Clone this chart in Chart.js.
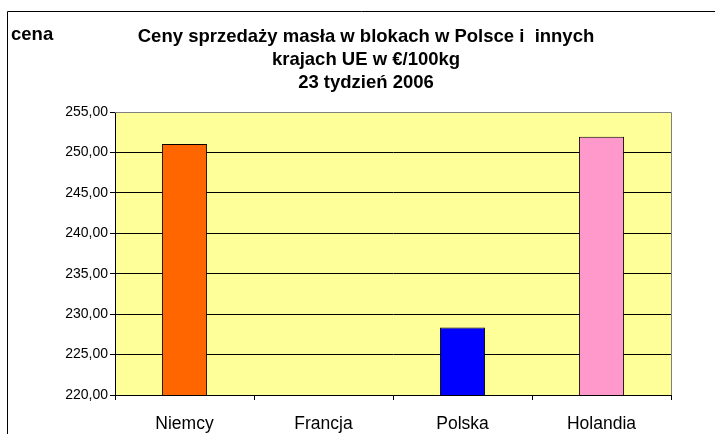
<!DOCTYPE html>
<html lang="pl">
<head>
    <meta charset="UTF-8">
    <title>Ceny sprzedaży masła</title>
    <script src="https://cdn.jsdelivr.net/npm/chart.js"></script>
    <style>
        html, body { margin: 0; padding: 0; background: #ffffff; }
        #wrap { width: 715px; height: 434px; }
    </style>
</head>
<body>
<div id="wrap"><canvas id="butterChart" width="715" height="434"></canvas></div>
<script>
    // dane
    const countries = ['Niemcy', 'Francja', 'Polska', 'Holandia'];
    const prices = [251.05, null, 228.35, 251.95];
    const barColors = ['#FF6600', '#FF6600', '#0000FF', '#FF99CC'];
    const titleLines = ['Ceny sprzedaży masła w blokach w Polsce i  innych', 'krajach UE w €/100kg', '23 tydzień 2006'];
    const axisLabel = 'cena';

    const FONT = "'Liberation Sans', Arial, sans-serif";

    // tło obszaru wykresu, ramka i tytuł
    const decorations = {
        id: 'decorations',
        beforeDraw(chart) {
            const { ctx, chartArea: a } = chart;
            ctx.save();
            ctx.fillStyle = '#FFFF99';
            ctx.fillRect(a.left, a.top, a.right - a.left, a.bottom - a.top);
            ctx.restore();
        },
        afterDraw(chart) {
            const { ctx, chartArea: a } = chart;
            ctx.save();
            // zewnętrzna ramka (ucięta z prawej i z dołu)
            ctx.strokeStyle = '#000000';
            ctx.lineWidth = 1;
            ctx.beginPath();
            ctx.moveTo(7.5, 440);
            ctx.lineTo(7.5, 11.5);
            ctx.lineTo(720, 11.5);
            ctx.stroke();
            // prawa i górna krawędź obszaru
            ctx.strokeStyle = '#808080';
            ctx.beginPath();
            ctx.moveTo(a.left, a.top + 0.5);
            ctx.lineTo(a.right + 0.5, a.top + 0.5);
            ctx.lineTo(a.right + 0.5, a.bottom);
            ctx.stroke();
            // tytuł
            ctx.fillStyle = '#000000';
            ctx.textBaseline = 'alphabetic';
            ctx.font = 'bold 18.5px ' + FONT;
            ctx.textAlign = 'center';
            titleLines.forEach((t, i) => ctx.fillText(t, 366, 42 + i * 23));
            ctx.textAlign = 'left';
            ctx.fillText(axisLabel, 11, 40);
            ctx.restore();
        }
    };

    new Chart(document.getElementById('butterChart'), {
        type: 'bar',
        data: {
            labels: countries,
            datasets: [{
                data: prices,
                backgroundColor: barColors,
                borderColor: '#000000',
                borderWidth: 1,
                borderSkipped: false,
                barPercentage: 0.325,
                categoryPercentage: 1
            }]
        },
        options: {
            responsive: false,
            animation: false,
            layout: { padding: { left: 0, top: 112, right: 44, bottom: 0 } },
            plugins: {
                legend: { display: false },
                title: { display: false },
                tooltip: { enabled: false }
            },
            scales: {
                x: {
                    afterFit(scale) { scale.height = 39; },
                    grid: {
                        offset: true,
                        drawOnChartArea: false,
                        drawTicks: true,
                        tickLength: 5,
                        color: '#000000'
                    },
                    border: { color: '#000000', width: 1 },
                    ticks: {
                        color: '#000000',
                        padding: 14,
                        font: { family: FONT, size: 17.5 }
                    }
                },
                y: {
                    min: 220,
                    max: 255,
                    afterFit(scale) { scale.width = 115; },
                    grid: {
                        color: ctx => ctx.tick && ctx.tick.value === 255 ? '#808080' : '#000000',
                        tickColor: '#000000',
                        tickLength: 5,
                        lineWidth: 1
                    },
                    border: { color: '#000000', width: 1 },
                    ticks: {
                        stepSize: 5,
                        color: '#000000',
                        padding: 2,
                        font: { family: FONT, size: 14 },
                        callback: v => v.toFixed(2).replace('.', ',')
                    }
                }
            }
        },
        plugins: [decorations]
    });
</script>
</body>
</html>
